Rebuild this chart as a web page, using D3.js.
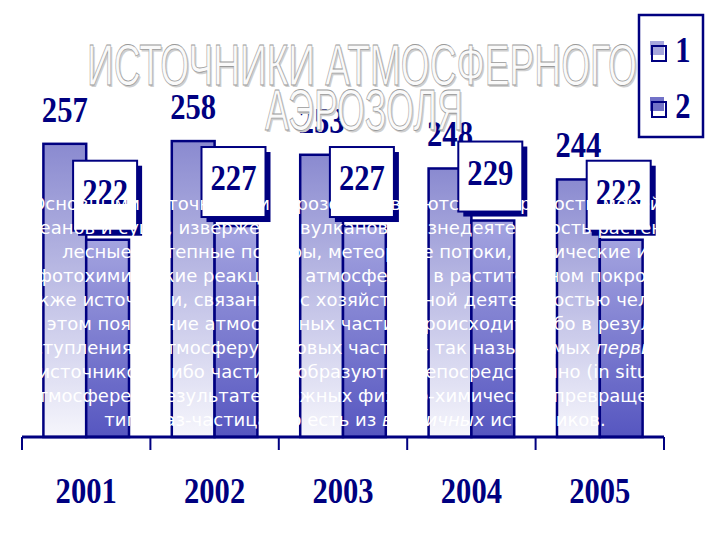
<!DOCTYPE html>
<html><head><meta charset="utf-8">
<script src="https://cdn.jsdelivr.net/npm/d3@7"></script>
<style>html,body{margin:0;padding:0;background:#fff}svg{display:block}</style>
</head><body>
<script>
const years = ["2001","2002","2003","2004","2005"];
const series1 = [257,258,253,248,244];
const series2 = [222,227,227,229,222];
const legendLabels = ["1","2"];
const titleLines = ["ИСТОЧНИКИ АТМОСФЕРНОГО","АЭРОЗОЛЯ"];
const bodyLines = [
 "Основными источниками аэрозолей являются поверхности морей и",
 "океанов и суши, извержения вулканов, жизнедеятельность растений,",
 "лесные и степные пожары, метеорные потоки, химические и",
 "фотохимические реакции в атмосфере и в растительном покрове,",
 "а также источники, связанные с хозяйственной деятельностью человека.",
 "При этом появление атмосферных частиц происходит либо в результате",
 "поступления в атмосферу готовых частиц – так называемых первичных",
 "источников, либо частицы образуются непосредственно (in situ) в",
 "атмосфере в результате сложных физико-химических превращений",
 "типа газ-частица, то есть из вторичных источников."
];
const italicWords = ["первичных","вторичных"];

const W=720,H=540, navy="#000080";
const svg=d3.select("body").append("svg").attr("width",W).attr("height",H);
const defs=svg.append("defs");
const g1=defs.append("linearGradient").attr("id","g1").attr("x1",0).attr("y1",0).attr("x2",0).attr("y2",1);
g1.append("stop").attr("offset","0%").attr("stop-color","#8a8ad0");
g1.append("stop").attr("offset","100%").attr("stop-color","#f6f6fc");
const g2=defs.append("linearGradient").attr("id","g2").attr("x1",0).attr("y1",0).attr("x2",0).attr("y2",1);
g2.append("stop").attr("offset","0%").attr("stop-color","#a4a4e0");
g2.append("stop").attr("offset","100%").attr("stop-color","#5656c0");

const x0=d3.scaleBand().domain(years).range([22,664]).padding(0);
const x1=d3.scaleBand().domain(["s1","s2"]).range([0,x0.bandwidth()]).paddingInner(0).paddingOuter(0.5);
const y=d3.scaleLinear().domain([150,300]).range([437,26]);

const data=years.map((yr,i)=>({yr,v1:series1[i],v2:series2[i]}));
const grp=svg.append("g").selectAll("g").data(data).join("g").attr("transform",d=>`translate(${x0(d.yr)},0)`);

// bars
grp.append("rect").attr("x",x1("s1")).attr("y",d=>y(d.v1)).attr("width",x1.bandwidth()).attr("height",d=>y(150)-y(d.v1))
  .attr("fill","url(#g1)").attr("stroke",navy).attr("stroke-width",2.5);
grp.append("rect").attr("x",x1("s2")).attr("y",d=>y(d.v2)).attr("width",x1.bandwidth()).attr("height",d=>y(150)-y(d.v2))
  .attr("fill","url(#g2)").attr("stroke",navy).attr("stroke-width",2.5);

const numFont="'Liberation Serif','Times New Roman',serif";
// series1 labels
grp.append("text").attr("transform",d=>`translate(${x1("s1")+x1.bandwidth()/2},${y(d.v1)-22}) scale(0.85,1)`)
  .attr("text-anchor","middle").attr("font-family",numFont).attr("font-weight","bold").attr("font-size",36)
  .attr("fill",navy).text(d=>d.v1);
// series2 label boxes
const bw=64,bh=70,sh=5;
const box=grp.append("g").attr("transform",d=>`translate(${x1("s2")+x1.bandwidth()/2-(bw+sh)/2},${y(d.v2)-4-bh-sh})`);
box.append("rect").attr("x",sh).attr("y",sh).attr("width",bw).attr("height",bh).attr("fill",navy);
box.append("rect").attr("x",0).attr("y",0).attr("width",bw).attr("height",bh).attr("fill","#fff").attr("stroke",navy).attr("stroke-width",2);
box.append("text").attr("transform",`translate(${bw/2},43) scale(0.85,1)`).attr("text-anchor","middle")
  .attr("font-family",numFont).attr("font-weight","bold").attr("font-size",36).attr("fill",navy).text(d=>d.v2);

// axis
const ax=svg.append("g");
ax.append("line").attr("x1",x0.range()[0]).attr("x2",x0.range()[1]).attr("y1",y(150)).attr("y2",y(150)).attr("stroke",navy).attr("stroke-width",3);
const bounds=years.map(d=>x0(d)).concat([x0.range()[1]]);
ax.selectAll("line.tk").data(bounds).join("line").attr("class","tk").attr("x1",d=>d).attr("x2",d=>d)
  .attr("y1",y(150)).attr("y2",y(150)+13).attr("stroke",navy).attr("stroke-width",2);
ax.selectAll("text").data(years).join("text").attr("transform",d=>`translate(${x0(d)+x0.bandwidth()/2},503) scale(0.85,1)`)
  .attr("text-anchor","middle").attr("font-family",numFont).attr("font-weight","bold").attr("font-size",36).attr("fill",navy).text(d=>d);

// legend
const lg=svg.append("g");
lg.append("rect").attr("x",639).attr("y",15).attr("width",64).attr("height",122).attr("fill","#fff").attr("stroke",navy).attr("stroke-width",2.5);
const li=lg.selectAll("g").data(legendLabels).join("g").attr("transform",(d,i)=>`translate(650,${41+i*56})`);
li.append("rect").attr("x",0).attr("y",0).attr("width",14).attr("height",14).attr("fill",(d,i)=>i?"#7272c8":"#a6a6dc");
li.append("rect").attr("x",2).attr("y",5).attr("width",14).attr("height",15).attr("fill","none").attr("stroke",navy).attr("stroke-width",2);
li.append("text").attr("transform",`translate(33,21) scale(0.85,1)`).attr("text-anchor","middle").attr("font-family",numFont)
  .attr("font-weight","bold").attr("font-size",36).attr("fill",navy).text(d=>d);

// title
const tl=[{t:titleLines[0],cx:362,by:85,len:550},{t:titleLines[1],cx:364,by:130,len:198}];
const tg=svg.append("g").attr("font-family","'Liberation Sans',Arial,sans-serif").attr("font-size",58).attr("text-anchor","middle");
tg.selectAll("text.sh").data(tl).join("text").attr("class","sh").attr("x",d=>d.cx+1.5).attr("y",d=>d.by+1.5)
  .attr("textLength",d=>d.len).attr("lengthAdjust","spacingAndGlyphs").attr("fill","#cfcfcf").text(d=>d.t);
tg.selectAll("text.mn").data(tl).join("text").attr("class","mn").attr("x",d=>d.cx).attr("y",d=>d.by)
  .attr("textLength",d=>d.len).attr("lengthAdjust","spacingAndGlyphs").attr("fill","#fafafa")
  .attr("stroke","#9a9a9a").attr("stroke-width",0.8).text(d=>d.t);

// body text
const bt=svg.append("g").attr("font-family","'DejaVu Sans','Noto Sans',sans-serif").attr("font-size",18)
  .attr("fill","#fff").attr("text-anchor","middle");
const re=new RegExp("("+italicWords.join("|")+")");
bodyLines.forEach((line,i)=>{
  const t=bt.append("text").attr("x",355).attr("y",210+i*24);
  line.split(re).filter(s=>s.length).forEach(seg=>{
    t.append("tspan").attr("font-style",italicWords.includes(seg)?"italic":null).text(seg);
  });
});
</script>
</body></html>
